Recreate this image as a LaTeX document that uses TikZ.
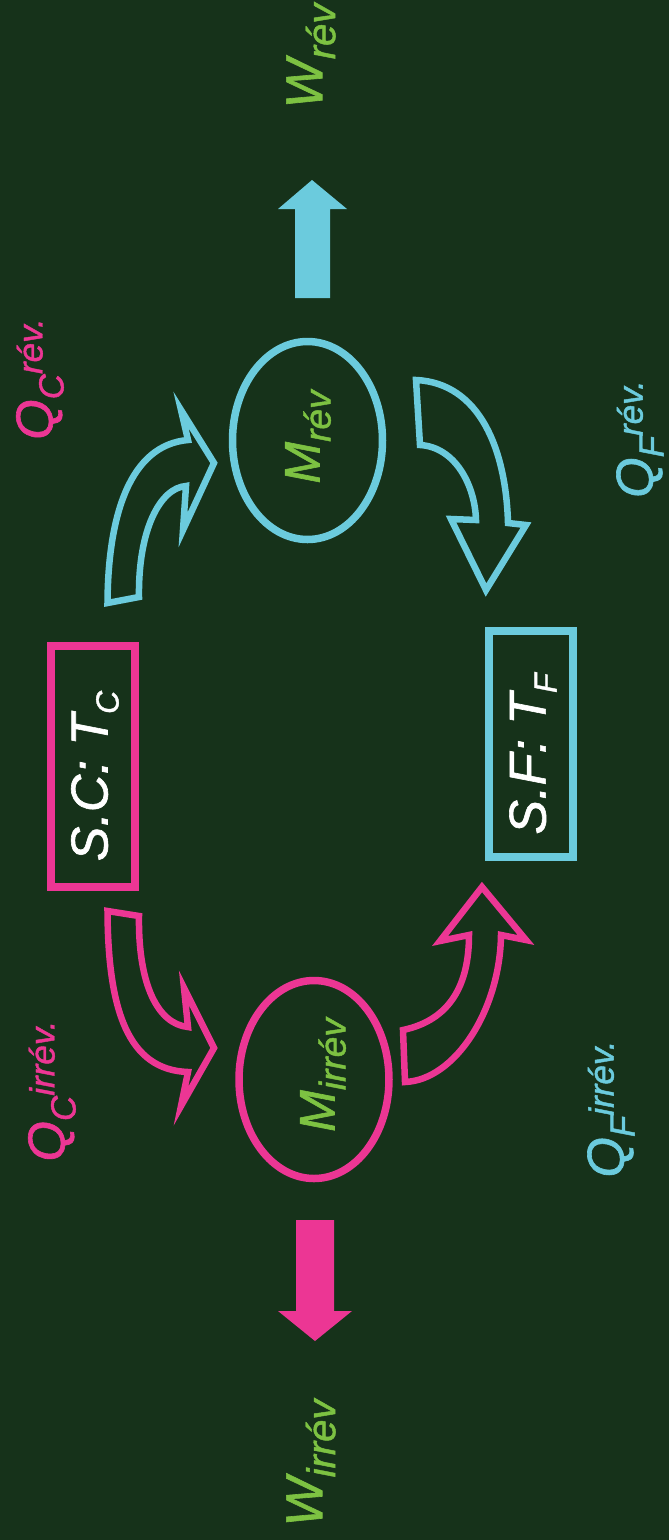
\documentclass[tikz,border=0pt]{standalone}
\usepackage{fontspec}
\setmainfont{Liberation Sans}[ItalicFeatures={FakeBold=1.2}]
\usetikzlibrary{shapes.geometric}
\definecolor{bg}{RGB}{22,50,26}
\definecolor{mpink}{RGB}{236,54,148}
\definecolor{mcyan}{RGB}{107,203,221}
\definecolor{mgreen}{RGB}{125,194,66}
\newcommand{\scr}[3]{\raisebox{#1}{\fontsize{#2}{#2}\selectfont #3}}
\begin{document}
\begin{tikzpicture}[x=1pt,y=-1pt,
  lab/.style={rotate=90, inner sep=0pt, font=\fontsize{52pt}{52pt}\selectfont\itshape},
  mlab/.style={rotate=90, inner sep=0pt, font=\fontsize{50pt}{50pt}\selectfont\itshape},
  boxsty/.style={draw, line width=8pt, minimum width=84pt, inner sep=0pt},
  ell/.style={ellipse, draw, line width=7.5pt, minimum width=150pt, minimum height=198pt, inner sep=0pt},
  barrow/.style={line width=6.5pt, line join=miter},
]
\useasboundingbox (0,0) rectangle (669,1540);
\fill[bg] (0,0) rectangle (669,1540);

% reservoirs
\node[boxsty, draw=mpink, minimum height=241pt] (sc) at (93,766.5) {};
\node[boxsty, draw=mcyan, minimum height=226pt] (sf) at (531,744) {};
\node[lab, text=white] (tsc) at (95,776) {S.C: T\scr{-11pt}{32pt}{C}};
\node[lab, text=white] (tsf) at (533,754) {S.F: T\scr{-11pt}{32pt}{F}};

% engines
\node[ell, draw=mcyan] (mrev) at (307.5,440.5) {};
\node[ell, draw=mpink] (mirr) at (314,1079.5) {};
\node[mlab, text=mgreen] (tmrev) at (308,437) {M\scr{-11pt}{37pt}{rév}};
\node[mlab, text=mgreen] (tmirr) at (323,1075) {M\scr{-11pt}{37pt}{irrév}};

% curved block arrows
\draw[barrow, draw=mcyan] (139,597) .. controls (138,530) and (160,488) .. (186,486)
  -- (183,530) -- (214,463) -- (181,410) -- (188,440)
  .. controls (130,445) and (108,515) .. (107.5,603) -- cycle;
\draw[barrow, draw=mcyan] (420,445) .. controls (455,447) and (475,485) .. (476,520)
  -- (451,519) -- (486,590) -- (526,525) -- (508,523)
  .. controls (506,450) and (480,383) .. (416,380) -- cycle;
\draw[barrow, draw=mpink] (139,916) .. controls (138,985) and (158,1024) .. (188,1027)
  -- (184,988) -- (214,1048) -- (181,1106) -- (188,1072)
  .. controls (128,1070) and (108,1010) .. (107.5,911) -- cycle;
\draw[barrow, draw=mpink] (403,1030) .. controls (450,1020) and (469,985) .. (469,935)
  -- (440,941) -- (482,887) -- (526,940) -- (501,935)
  .. controls (500,1010) and (455,1080) .. (405,1082) -- cycle;

% work arrows
\fill[mcyan] (295,298) -- (295,209) -- (278,209) -- (312,180) -- (347,209) -- (330,209) -- (330,298) -- cycle;
\fill[mpink] (296,1220) -- (334,1220) -- (334,1311) -- (352,1311) -- (315,1341) -- (278,1311) -- (296,1311) -- cycle;

% labels
\node[lab, text=mgreen] (wrev) at (311,56) {W\scr{-13pt}{40pt}{rév}};
\node[lab, text=mgreen] (wirr) at (311,1463) {W\scr{-13pt}{40pt}{irrév}};
\node[lab, text=mpink] (qcrev) at (40,379) {Q\scr{-11pt}{35pt}{C}\scr{10pt}{35pt}{rév.}};
\node[lab, text=mcyan] (qfrev) at (640,439) {Q\scr{-11pt}{35pt}{F}\scr{10pt}{35pt}{rév.}};
\node[lab, text=mpink] (qcirr) at (52,1091) {Q\scr{-11pt}{35pt}{C}\scr{10pt}{35pt}{irrév.}};
\node[lab, text=mcyan] (qfirr) at (611,1109) {Q\scr{-11pt}{35pt}{F}\scr{10pt}{35pt}{irrév.}};
\end{tikzpicture}
\end{document}
